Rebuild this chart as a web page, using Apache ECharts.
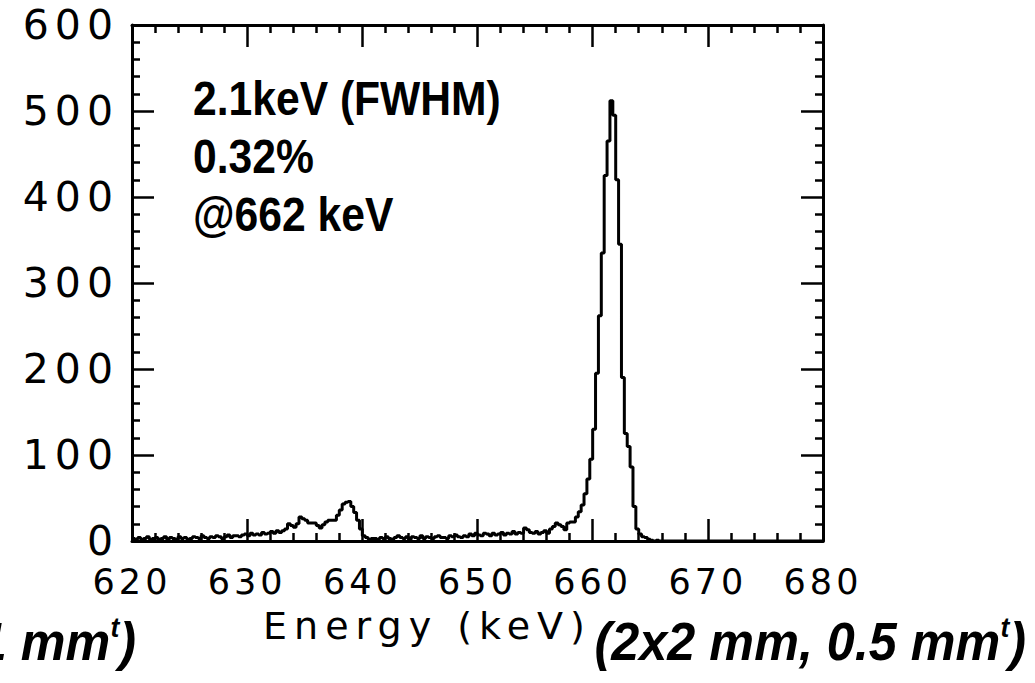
<!DOCTYPE html>
<html>
<head>
<meta charset="utf-8">
<script src="https://cdn.jsdelivr.net/npm/echarts@6/dist/echarts.min.js"></script>
<style>
  html, body { margin: 0; padding: 0; background: #fff; }
  #chart { width: 1035px; height: 683px; }
  /* wide-tracked lettering for tick labels and the axis title */
  #chart text[style*=" 35px"] { letter-spacing: 4px; }
  #chart text[style*=" 41px"] { letter-spacing: 6px; }
  #chart text[style*=" 38px"] { letter-spacing: 7px; }
</style>
</head>
<body>
<div id="chart"></div>
<script>
// Cs-137 photopeak spectrum: counts per 0.25 keV bin, first bin starts at 620 keV
const binStart = 620;
const binWidth = 0.25;
const counts = [
  // 620–624 keV
  3, 2, 4, 2,   3, 5, 2, 3,   4, 2, 3, 5,   2, 4, 3, 2,   5, 3, 4, 2,
  // 625–629 keV
  3, 5, 4, 3,   6, 4, 3, 5,   4, 6, 5, 3,   5, 7, 4, 6,   6, 5, 7, 8,
  // 630–634 keV
  6, 9, 7, 8,   7, 10, 8, 9,  11, 9, 12, 10, 12, 14, 20, 18, 16, 20, 28, 26,
  // 635–639 keV
  24, 21, 21, 21, 18, 15, 19, 22, 24, 24, 24, 30, 36, 43, 45, 46, 40, 33, 24, 14,
  // 640–644 keV
  6, 4, 2, 3,   3, 2, 4, 3,   5, 3, 2, 4,   6, 4, 3, 5,   2, 5, 4, 3,
  // 645–649 keV
  6, 3, 5, 4,   3, 5, 6, 4,   4, 3, 6, 5,   7, 5, 4, 6,   5, 8, 6, 9,
  // 650–654 keV
  7, 6, 9, 8,   6, 9, 7, 8,   10, 7, 9, 8,  11, 8, 10, 9, 15, 13, 10, 9,
  // 655–659 keV
  11, 8, 10, 12, 9, 14, 17, 21, 19, 17, 13, 21, 22, 22, 28, 34, 42, 55, 72, 95,
  // 660–664 keV
  130, 195, 262, 335, 425, 465, 512, 495, 420, 345, 190, 125, 110, 86, 40, 14, 8, 5, 4, 2,
  // 665–669 keV
  1, 0, 1, 0,   0, 0, 0, 0,   0, 0, 0, 0,   0, 0, 0, 0,   0, 0, 0, 0,
  // 670–674 keV
  0, 0, 0, 0,   0, 0, 0, 0,   0, 0, 0, 0,   0, 0, 0, 0,   0, 0, 0, 0,
  // 675–679 keV
  0, 0, 0, 0,   0, 0, 0, 0,   0, 0, 0, 0,   0, 0, 0, 0,   0, 0, 0, 0
];

const xRange = [620, 680];
const xStep = 10;
const yRange = [0, 600];
const yStep = 100;

const axisTitle = 'Energy (keV)';
const resolutionLines = ['2.1keV (FWHM)', '0.32%', '@662 keV'];
const sampleSize = '(2x2 mm, 0.5 mm';
const neighbourSize = '1 mm';

// step histogram: each point is a bin's left edge, closed at the last bin's right edge
const histData = counts.map((c, i) => [binStart + i * binWidth, c]);
histData.push([binStart + counts.length * binWidth, counts[counts.length - 1]]);

const tickFont = '"DejaVu Sans", sans-serif';
const boldFont = '"Liberation Sans", Arial, sans-serif';

function frameAxis(extra) {
  return Object.assign({
    type: 'value',
    axisLine: { show: true, onZero: false, lineStyle: { color: '#000', width: 3 } },
    axisTick: { show: true, inside: true, length: 22, lineStyle: { color: '#000', width: 2.5 } },
    minorTick: { show: true, splitNumber: 5, length: 8, lineStyle: { color: '#000', width: 2.5 } },
    splitLine: { show: false },
    minorSplitLine: { show: false }
  }, extra);
}

// bold condensed note lines, narrowed horizontally from their left edge
function noteLine(text, y) {
  return {
    type: 'text', x: 193, y: y, scaleX: 0.87, silent: true,
    style: {
      text: text, fill: '#000', fontFamily: boldFont, fontWeight: 'bold', fontSize: 49,
      align: 'left', verticalAlign: 'middle'
    }
  };
}

// bold italic size caption with a superscript t
function sizeCaption(text, x) {
  return {
    type: 'text', x: x, y: 642, scaleX: 0.95, silent: true,
    style: {
      text: '{a|' + text + '}{s|t}{a|)}',
      align: 'right', verticalAlign: 'middle',
      rich: {
        a: { fontFamily: boldFont, fontWeight: 'bold', fontStyle: 'italic', fontSize: 53, fill: '#000', lineHeight: 58 },
        s: { fontFamily: boldFont, fontWeight: 'bold', fontStyle: 'italic', fontSize: 28, fill: '#000', verticalAlign: 'top' }
      }
    }
  };
}

const chart = echarts.init(document.getElementById('chart'), null, { renderer: 'svg' });

chart.setOption({
  backgroundColor: '#fff',
  animation: false,
  grid: { left: 132, right: 212, top: 25, bottom: 142, containLabel: false },
  xAxis: [
    frameAxis({
      position: 'bottom',
      min: xRange[0], max: xRange[1], interval: xStep,
      axisLabel: { show: true, margin: 23, color: '#000', fontFamily: tickFont, fontSize: 35 },
      name: axisTitle,
      nameLocation: 'middle',
      nameGap: 66,
      nameTextStyle: { color: '#000', fontFamily: tickFont, fontSize: 38, padding: [0, 100, 0, 0] }
    }),
    frameAxis({
      position: 'top',
      min: xRange[0], max: xRange[1], interval: xStep,
      axisLabel: { show: false }
    })
  ],
  yAxis: [
    frameAxis({
      position: 'left',
      min: yRange[0], max: yRange[1], interval: yStep,
      axisLabel: { show: true, margin: 13, color: '#000', fontFamily: tickFont, fontSize: 41 }
    }),
    frameAxis({
      position: 'right',
      min: yRange[0], max: yRange[1], interval: yStep,
      axisLabel: { show: false }
    })
  ],
  series: [{
    type: 'line',
    xAxisIndex: 0,
    yAxisIndex: 0,
    step: 'end',
    data: histData,
    showSymbol: false,
    symbol: 'none',
    lineStyle: { color: '#000', width: 3 },
    silent: true
  }],
  graphic: [
    noteLine(resolutionLines[0], 98),
    noteLine(resolutionLines[1], 156),
    noteLine(resolutionLines[2], 214),
    sizeCaption(sampleSize, 1026),
    sizeCaption(neighbourSize, 136)
  ]
});
</script>
</body>
</html>
